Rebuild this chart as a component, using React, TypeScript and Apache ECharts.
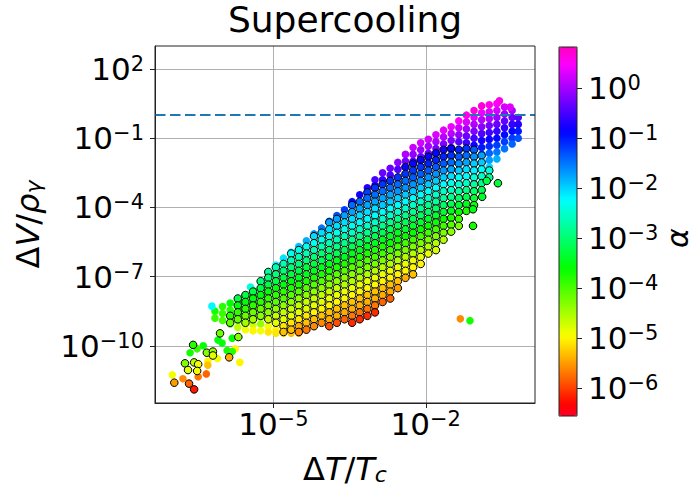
import React, { useEffect, useRef } from "react";
import * as echarts from "echarts";

// All values are log10 exponents: [log10(ΔT/Tc), log10(ΔV/ργ), log10(α)]
type P = [number, number, number];

// points drawn with a black edge (dense core)
const edgedCore: P[] = [
  [-5.85,-8.7,-3.85],[-5.85,-9.0,-4.15],
  [-5.7,-7.95,-3.25],[-5.7,-8.25,-3.55],[-5.7,-8.55,-3.85],[-5.7,-8.85,-4.15],
  [-5.55,-7.8,-3.25],[-5.55,-8.1,-3.55],[-5.55,-8.4,-3.85],[-5.55,-8.7,-4.15],[-5.55,-9.0,-4.45],
  [-5.4,-7.65,-3.25],[-5.4,-7.95,-3.55],[-5.4,-8.25,-3.85],[-5.4,-8.55,-4.15],[-5.4,-8.85,-4.45],
  [-5.25,-7.2,-2.95],[-5.25,-7.5,-3.25],[-5.25,-7.8,-3.55],[-5.25,-8.1,-3.85],[-5.25,-8.4,-4.15],[-5.25,-8.7,-4.35],
  [-5.1,-6.8,-2.75],[-5.1,-7.05,-2.95],[-5.1,-7.35,-3.25],[-5.1,-7.65,-3.55],[-5.1,-7.95,-3.85],[-5.1,-8.25,-4.15],[-5.1,-8.55,-4.35],[-5.1,-8.85,-4.65],
  [-4.95,-6.6,-2.65],[-4.95,-6.9,-2.95],[-4.95,-7.2,-3.25],[-4.95,-7.5,-3.55],[-4.95,-7.8,-3.85],[-4.95,-8.1,-4.05],[-4.95,-8.4,-4.35],[-4.95,-8.7,-4.65],[-4.95,-9.0,-4.8],
  [-4.8,-6.45,-2.65],[-4.8,-6.75,-2.95],[-4.8,-7.05,-3.25],[-4.8,-7.35,-3.55],[-4.8,-7.65,-3.85],[-4.8,-7.95,-4.05],[-4.8,-8.25,-4.35],[-4.8,-8.55,-4.65],[-4.8,-8.85,-4.8],[-4.8,-9.15,-5.1],[-4.8,-9.4,-5.3],
  [-4.65,-6.0,-2.35],[-4.65,-6.3,-2.65],[-4.65,-6.6,-2.95],[-4.65,-6.9,-3.25],[-4.65,-7.2,-3.55],[-4.65,-7.5,-3.75],[-4.65,-7.8,-4.05],[-4.65,-8.1,-4.35],[-4.65,-8.4,-4.65],[-4.65,-8.7,-4.8],[-4.65,-9.0,-5.1],[-4.65,-9.3,-5.3],
  [-4.5,-5.85,-2.35],[-4.5,-6.15,-2.65],[-4.5,-6.45,-2.95],[-4.5,-6.75,-3.25],[-4.5,-7.05,-3.45],[-4.5,-7.35,-3.75],[-4.5,-7.65,-4.05],[-4.5,-7.95,-4.35],[-4.5,-8.25,-4.65],[-4.5,-8.55,-4.8],[-4.5,-8.85,-5.1],[-4.5,-9.15,-5.4],[-4.5,-9.4,-5.6],
  [-4.35,-5.7,-2.35],[-4.35,-6.0,-2.65],[-4.35,-6.3,-2.95],[-4.35,-6.6,-3.25],[-4.35,-6.9,-3.45],[-4.35,-7.2,-3.75],[-4.35,-7.5,-4.05],[-4.35,-7.8,-4.35],[-4.35,-8.1,-4.65],[-4.35,-8.4,-4.8],[-4.35,-8.7,-5.1],[-4.35,-9.0,-5.3],[-4.35,-9.3,-5.7],
  [-4.2,-5.25,-2.05],[-4.2,-5.55,-2.35],[-4.2,-5.85,-2.65],[-4.2,-6.15,-2.95],[-4.2,-6.45,-3.25],[-4.2,-6.75,-3.45],[-4.2,-7.05,-3.75],[-4.2,-7.35,-4.05],[-4.2,-7.65,-4.35],[-4.2,-7.95,-4.65],[-4.2,-8.25,-4.8],[-4.2,-8.55,-5.0],[-4.2,-8.85,-5.3],[-4.2,-9.15,-5.6],
  [-4.05,-5.1,-2.05],[-4.05,-5.4,-2.35],[-4.05,-5.7,-2.65],[-4.05,-6.0,-2.95],[-4.05,-6.3,-3.15],[-4.05,-6.6,-3.45],[-4.05,-6.9,-3.75],[-4.05,-7.2,-4.05],[-4.05,-7.5,-4.35],[-4.05,-7.8,-4.65],[-4.05,-8.1,-4.8],[-4.05,-8.4,-5.0],[-4.05,-8.7,-5.3],[-4.05,-9.0,-5.6],
  [-3.9,-4.65,-1.75],[-3.9,-4.95,-2.05],[-3.9,-5.25,-2.35],[-3.9,-5.55,-2.65],[-3.9,-5.85,-2.95],[-3.9,-6.15,-3.15],[-3.9,-6.45,-3.45],[-3.9,-6.75,-3.75],[-3.9,-7.05,-4.05],[-3.9,-7.35,-4.35],[-3.9,-7.65,-4.65],[-3.9,-7.95,-4.85],[-3.9,-8.25,-5.0],[-3.9,-8.55,-5.3],[-3.9,-8.85,-5.4],[-3.9,-9.15,-5.9],
  [-3.75,-4.5,-1.75],[-3.75,-4.8,-2.05],[-3.75,-5.1,-2.35],[-3.75,-5.4,-2.65],[-3.75,-5.7,-2.85],[-3.75,-6.0,-3.15],[-3.75,-6.3,-3.45],[-3.75,-6.6,-3.75],[-3.75,-6.9,-4.05],[-3.75,-7.2,-4.35],[-3.75,-7.5,-4.65],[-3.75,-7.8,-4.85],[-3.75,-8.1,-5.0],[-3.75,-8.4,-5.3],[-3.75,-8.7,-5.4],[-3.75,-9.0,-5.9],
  [-3.6,-4.35,-1.75],[-3.6,-4.65,-2.05],[-3.6,-4.95,-2.35],[-3.6,-5.25,-2.65],[-3.6,-5.55,-2.85],[-3.6,-5.85,-3.15],[-3.6,-6.15,-3.45],[-3.6,-6.45,-3.75],[-3.6,-6.75,-4.05],[-3.6,-7.05,-4.35],[-3.6,-7.35,-4.55],[-3.6,-7.65,-4.85],[-3.6,-7.95,-5.0],[-3.6,-8.25,-5.3],[-3.6,-8.55,-5.4],[-3.6,-8.85,-5.8],
  [-3.45,-3.9,-1.45],[-3.45,-4.2,-1.75],[-3.45,-4.5,-2.05],[-3.45,-4.8,-2.35],[-3.45,-5.1,-2.55],[-3.45,-5.4,-2.85],[-3.45,-5.7,-3.15],[-3.45,-6.0,-3.45],[-3.45,-6.3,-3.75],[-3.45,-6.6,-4.05],[-3.45,-6.9,-4.35],[-3.45,-7.2,-4.55],[-3.45,-7.5,-4.85],[-3.45,-7.8,-5.0],[-3.45,-8.1,-5.3],[-3.45,-8.4,-5.4],[-3.45,-8.7,-5.7],[-3.45,-9.0,-6.1],
  [-3.3,-3.75,-1.45],[-3.3,-4.05,-1.75],[-3.3,-4.35,-2.05],[-3.3,-4.65,-2.25],[-3.3,-4.95,-2.55],[-3.3,-5.25,-2.85],[-3.3,-5.55,-3.15],[-3.3,-5.85,-3.45],[-3.3,-6.15,-3.75],[-3.3,-6.45,-4.05],[-3.3,-6.75,-4.25],[-3.3,-7.05,-4.55],[-3.3,-7.35,-4.85],[-3.3,-7.65,-5.0],[-3.3,-7.95,-5.3],[-3.3,-8.25,-5.4],[-3.3,-8.55,-5.7],[-3.3,-8.85,-6.1],
  [-3.15,-3.35,-1.2],[-3.15,-3.6,-1.45],[-3.15,-3.9,-1.75],[-3.15,-4.2,-2.05],[-3.15,-4.5,-2.25],[-3.15,-4.8,-2.55],[-3.15,-5.1,-2.85],[-3.15,-5.4,-3.15],[-3.15,-5.7,-3.45],[-3.15,-6.0,-3.75],[-3.15,-6.3,-4.05],[-3.15,-6.6,-4.25],[-3.15,-6.9,-4.55],[-3.15,-7.2,-4.85],[-3.15,-7.5,-5.0],[-3.15,-7.8,-5.3],[-3.15,-8.1,-5.4],[-3.15,-8.4,-5.7],[-3.15,-8.7,-6.1],
  [-3.0,-3.15,-1.15],[-3.0,-3.45,-1.45],[-3.0,-3.75,-1.75],[-3.0,-4.05,-2.05],[-3.0,-4.35,-2.25],[-3.0,-4.65,-2.55],[-3.0,-4.95,-2.85],[-3.0,-5.25,-3.15],[-3.0,-5.55,-3.45],[-3.0,-5.85,-3.75],[-3.0,-6.15,-3.95],[-3.0,-6.45,-4.25],[-3.0,-6.75,-4.55],[-3.0,-7.05,-4.85],[-3.0,-7.35,-5.0],[-3.0,-7.65,-5.3],[-3.0,-7.95,-5.4],[-3.0,-8.25,-5.7],[-3.0,-8.55,-6.1],
  [-2.85,-3.0,-1.15],[-2.85,-3.3,-1.45],[-2.85,-3.6,-1.75],[-2.85,-3.9,-1.95],[-2.85,-4.2,-2.25],[-2.85,-4.5,-2.55],[-2.85,-4.8,-2.85],[-2.85,-5.1,-3.15],[-2.85,-5.4,-3.45],[-2.85,-5.7,-3.75],[-2.85,-6.0,-3.95],[-2.85,-6.3,-4.25],[-2.85,-6.6,-4.55],[-2.85,-6.9,-4.85],[-2.85,-7.2,-5.0],[-2.85,-7.5,-5.3],[-2.85,-7.8,-5.4],[-2.85,-8.1,-5.8],
  [-2.7,-2.85,-1.15],[-2.7,-3.15,-1.45],[-2.7,-3.45,-1.75],[-2.7,-3.75,-1.95],[-2.7,-4.05,-2.25],[-2.7,-4.35,-2.55],[-2.7,-4.65,-2.85],[-2.7,-4.95,-3.15],[-2.7,-5.25,-3.45],[-2.7,-5.55,-3.65],[-2.7,-5.85,-3.95],[-2.7,-6.15,-4.25],[-2.7,-6.45,-4.55],[-2.7,-6.75,-4.85],[-2.7,-7.05,-5.0],[-2.7,-7.35,-5.3],[-2.7,-7.65,-5.4],[-2.7,-7.95,-5.8],
  [-2.55,-2.7,-1.15],[-2.55,-3.0,-1.45],[-2.55,-3.3,-1.65],[-2.55,-3.6,-1.95],[-2.55,-3.9,-2.25],[-2.55,-4.2,-2.55],[-2.55,-4.5,-2.85],[-2.55,-4.8,-3.15],[-2.55,-5.1,-3.45],[-2.55,-5.4,-3.65],[-2.55,-5.7,-3.95],[-2.55,-6.0,-4.25],[-2.55,-6.3,-4.55],[-2.55,-6.6,-4.85],[-2.55,-6.9,-5.0],[-2.55,-7.2,-5.3],[-2.55,-7.5,-5.5],
  [-2.4,-2.25,-0.85],[-2.4,-2.55,-1.15],[-2.4,-2.85,-1.45],[-2.4,-3.15,-1.65],[-2.4,-3.45,-1.95],[-2.4,-3.75,-2.25],[-2.4,-4.05,-2.55],[-2.4,-4.35,-2.85],[-2.4,-4.65,-3.15],[-2.4,-4.95,-3.35],[-2.4,-5.25,-3.65],[-2.4,-5.55,-3.95],[-2.4,-5.85,-4.25],[-2.4,-6.15,-4.55],[-2.4,-6.45,-4.85],[-2.4,-6.75,-5.0],[-2.4,-7.05,-5.4],
  [-2.25,-2.1,-0.85],[-2.25,-2.4,-1.15],[-2.25,-2.7,-1.35],[-2.25,-3.0,-1.65],[-2.25,-3.3,-1.95],[-2.25,-3.6,-2.25],[-2.25,-3.9,-2.55],[-2.25,-4.2,-2.85],[-2.25,-4.5,-3.15],[-2.25,-4.8,-3.35],[-2.25,-5.1,-3.65],[-2.25,-5.4,-3.95],[-2.25,-5.7,-4.25],[-2.25,-6.0,-4.55],[-2.25,-6.3,-4.85],[-2.25,-6.6,-5.0],[-2.25,-6.9,-5.3],
  [-2.1,-1.95,-0.85],[-2.1,-2.25,-1.15],[-2.1,-2.55,-1.35],[-2.1,-2.85,-1.65],[-2.1,-3.15,-1.95],[-2.1,-3.45,-2.25],[-2.1,-3.75,-2.55],[-2.1,-4.05,-2.85],[-2.1,-4.35,-3.05],[-2.1,-4.65,-3.35],[-2.1,-4.95,-3.65],[-2.1,-5.25,-3.95],[-2.1,-5.55,-4.25],[-2.1,-5.85,-4.55],[-2.1,-6.15,-4.85],[-2.1,-6.45,-5.0],
  [-1.95,-1.8,-0.85],[-1.95,-2.1,-1.05],[-1.95,-2.4,-1.35],[-1.95,-2.7,-1.65],[-1.95,-3.0,-1.95],[-1.95,-3.3,-2.25],[-1.95,-3.6,-2.55],[-1.95,-3.9,-2.85],[-1.95,-4.2,-3.05],[-1.95,-4.5,-3.35],[-1.95,-4.8,-3.65],[-1.95,-5.1,-3.95],[-1.95,-5.4,-4.25],[-1.95,-5.7,-4.55],[-1.95,-6.0,-4.85],
  [-1.8,-1.65,-0.85],[-1.8,-1.95,-1.05],[-1.8,-2.25,-1.35],[-1.8,-2.55,-1.65],[-1.8,-2.85,-1.95],[-1.8,-3.15,-2.25],[-1.8,-3.45,-2.55],[-1.8,-3.75,-2.75],[-1.8,-4.05,-3.05],[-1.8,-4.35,-3.35],[-1.8,-4.65,-3.65],[-1.8,-4.95,-3.95],[-1.8,-5.25,-4.25],[-1.8,-5.55,-4.55],[-1.8,-5.85,-4.75],
  [-1.65,-1.5,-0.75],[-1.65,-1.8,-1.05],[-1.65,-2.1,-1.35],[-1.65,-2.4,-1.65],[-1.65,-2.7,-1.95],[-1.65,-3.0,-2.25],[-1.65,-3.3,-2.55],[-1.65,-3.6,-2.75],[-1.65,-3.9,-3.05],[-1.65,-4.2,-3.35],[-1.65,-4.5,-3.65],[-1.65,-4.8,-3.95],[-1.65,-5.1,-4.25],[-1.65,-5.4,-4.55],
  [-1.5,-1.45,-0.85],[-1.5,-1.75,-1.15],[-1.5,-2.05,-1.45],[-1.5,-2.35,-1.75],[-1.5,-2.65,-2.05],[-1.5,-2.95,-2.35],[-1.5,-3.25,-2.55],[-1.5,-3.55,-2.85],[-1.5,-3.85,-3.15],[-1.5,-4.15,-3.45],[-1.5,-4.45,-3.75],[-1.5,-4.75,-4.05],[-1.5,-5.05,-4.35],
  [-1.35,-1.5,-1.05],[-1.35,-1.8,-1.35],[-1.35,-2.1,-1.65],[-1.35,-2.4,-1.95],[-1.35,-2.7,-2.25],[-1.35,-3.0,-2.45],[-1.35,-3.3,-2.75],[-1.35,-3.6,-3.05],[-1.35,-3.9,-3.35],[-1.35,-4.2,-3.65],[-1.35,-4.5,-3.95],[-1.35,-4.8,-4.25],
  [-1.2,-1.45,-1.15],[-1.2,-1.75,-1.45],[-1.2,-2.05,-1.75],[-1.2,-2.35,-2.05],[-1.2,-2.65,-2.25],[-1.2,-2.95,-2.55],[-1.2,-3.25,-2.85],[-1.2,-3.55,-3.15],[-1.2,-3.85,-3.45],[-1.2,-4.15,-3.75],
  [-1.05,-1.5,-1.35],[-1.05,-1.8,-1.65],[-1.05,-2.1,-1.95],[-1.05,-2.4,-2.15],[-1.05,-2.7,-2.45],[-1.05,-3.0,-2.75],[-1.05,-3.3,-3.05],[-1.05,-3.6,-3.35],[-1.05,-3.9,-3.65],
  [-0.9,-1.75,-1.75],[-0.9,-2.05,-1.95],[-0.9,-2.35,-2.25],[-0.9,-2.65,-2.55],[-0.9,-2.95,-2.85],[-0.9,-3.25,-3.15],
  [-0.75,-2.4,-2.45],[-0.75,-2.7,-2.75],
];

// black-edged points in the low-ΔT tail and stray points
const edgedTail: P[] = [
  [-6.05,-9.46,-4.2],[-5.69,-9.62,-4.3],[-6.58,-9.96,-3.8],[-6.31,-10.3,-4.3],[-6.19,-10.25,-4.4],
  [-6.19,-10.42,-4.8],[-5.87,-10.5,-5.4],[-6.74,-10.76,-4.3],[-6.56,-10.72,-4.6],[-6.48,-10.8,-4.9],
  [-6.68,-11.05,-4.8],[-6.5,-11.09,-4.9],[-6.95,-11.6,-5.5],[-6.66,-11.64,-5.8],[-6.56,-11.89,-6.2],
  [-1.07,-4.08,-3.5],[-1.07,-4.8,-3.7],[-0.58,-2.95,-3.3],[-0.89,-3.54,-3.4],[-0.8,-2.85,-3.2],
];

// points without edge: upper strip and high-α cluster
const plainUpper: P[] = [
  [-4.35,-5.45,-1.8],[-4.2,-5.15,-1.6],[-4.05,-4.9,-1.5],[-3.9,-4.6,-1.4],[-3.75,-4.35,-1.3],[-3.6,-4.1,-1.2],[-3.45,-3.8,-1.0],[-3.45,-3.75,-0.9],
  [-3.3,-3.45,-0.8],[-3.15,-3.15,-0.7],[-3.0,-2.8,-0.5],[-3.0,-3.05,-0.75],
  [-2.85,-2.5,-0.3],[-2.85,-2.8,-0.6],[-2.7,-2.3,-0.3],[-2.7,-2.6,-0.5],[-2.55,-2.05,-0.15],[-2.55,-2.35,-0.45],
  [-2.4,-1.7,0.05],[-2.4,-2.0,-0.25],[-2.25,-1.4,0.2],[-2.25,-1.7,-0.1],[-2.25,-2.0,-0.4],
  [-2.1,-1.2,0.25],[-2.1,-1.5,-0.05],[-2.1,-1.8,-0.3],[-1.95,-1.05,0.25],[-1.95,-1.35,0.0],[-1.95,-1.65,-0.3],
  [-1.8,-0.85,0.3],[-1.8,-1.15,0.05],[-1.8,-1.45,-0.25],[-1.65,-0.65,0.35],[-1.65,-0.95,0.1],[-1.65,-1.25,-0.2],
  [-1.5,-0.5,0.4],[-1.5,-0.8,0.1],[-1.5,-1.1,-0.2],[-1.5,-1.4,-0.5],
  [-1.35,-0.25,0.5],[-1.35,-0.55,0.2],[-1.35,-0.85,-0.1],[-1.35,-1.15,-0.4],
  [-1.2,0.0,0.6],[-1.2,-0.3,0.3],[-1.2,-0.6,0.0],[-1.2,-0.9,-0.3],[-1.2,-1.2,-0.55],
  [-1.05,0.2,0.65],[-1.05,-0.1,0.35],[-1.05,-0.4,0.05],[-1.05,-0.7,-0.2],[-1.05,-1.0,-0.5],[-1.05,-1.3,-0.8],
  [-0.9,0.4,0.7],[-0.9,0.1,0.4],[-0.9,-0.2,0.1],[-0.9,-0.5,-0.15],[-0.9,-0.8,-0.45],[-0.9,-1.1,-0.75],[-0.9,-1.4,-1.0],[-0.9,-1.7,-1.3],
  [-0.75,0.45,0.6],[-0.75,0.15,0.3],[-0.75,-0.15,0.05],[-0.75,-0.45,-0.25],[-0.75,-0.75,-0.55],[-0.75,-1.05,-0.8],[-0.75,-1.35,-1.1],[-0.75,-1.65,-1.4],[-0.75,-1.95,-1.7],[-0.75,-2.25,-2.0],
  [-0.6,0.5,0.5],[-0.6,0.2,0.25],[-0.6,-0.1,-0.05],[-0.6,-0.4,-0.35],[-0.6,-0.7,-0.6],[-0.6,-1.0,-0.9],[-0.6,-1.3,-1.2],[-0.6,-1.6,-1.5],[-0.6,-1.9,-1.8],
  [-0.45,0.35,0.25],[-0.45,0.05,-0.05],[-0.45,-0.25,-0.35],[-0.45,-0.55,-0.6],[-0.45,-0.85,-0.9],[-0.45,-1.15,-1.2],[-0.45,-1.45,-1.5],
  [-0.3,0.2,0.0],[-0.3,-0.1,-0.3],[-0.3,-0.4,-0.6],[-0.3,-0.7,-0.9],[-0.3,-1.0,-1.2],[-0.3,-1.25,-1.4],
  [-0.18,-0.1,-0.4],[-0.18,-0.4,-0.7],[-0.18,-0.7,-1.0],[-0.18,-1.0,-1.3],
  [-0.55,0.62,0.6],[-0.34,0.35,0.3],
];

// points without edge: low-ΔT blob, bottom strip, tail and strays
const plainLower: P[] = [
  [-6.15,-8.5,-3.7],[-6.15,-8.8,-3.9],
  [-6.0,-8.3,-3.8],[-6.0,-8.6,-3.9],[-6.0,-8.9,-4.0],
  [-5.85,-8.15,-3.6],[-5.85,-8.45,-3.8],[-5.85,-8.75,-3.9],[-5.85,-9.05,-4.1],
  [-5.7,-8.0,-3.5],[-5.7,-8.3,-3.7],[-5.7,-8.6,-3.9],[-5.7,-8.9,-4.2],[-5.7,-9.2,-4.6],
  [-5.55,-7.85,-3.3],[-5.55,-8.15,-3.6],[-5.55,-8.45,-3.8],[-5.55,-8.75,-4.1],[-5.55,-9.05,-4.5],[-5.55,-9.3,-4.9],
  [-5.4,-7.6,-3.1],[-5.4,-7.9,-3.4],[-5.4,-8.2,-3.7],[-5.4,-8.5,-4.0],[-5.4,-8.8,-4.3],[-5.4,-9.1,-4.7],[-5.4,-9.35,-5.0],
  [-5.45,-7.45,-2.4],
  [-5.25,-7.25,-2.7],[-5.25,-7.55,-3.0],[-5.25,-7.85,-3.2],[-5.25,-8.15,-3.5],[-5.25,-8.45,-3.8],[-5.25,-8.75,-4.1],[-5.25,-9.05,-4.4],[-5.25,-9.35,-4.9],
  [-5.1,-6.9,-2.5],[-5.1,-9.15,-4.9],[-5.1,-9.4,-5.1],
  [-4.95,-6.5,-2.2],[-4.95,-9.3,-5.0],[-4.95,-9.45,-5.1],
  [-4.8,-6.2,-2.1],[-4.8,-9.45,-5.2],
  [-4.65,-5.95,-2.0],[-4.65,-9.45,-5.3],
  [-4.5,-5.7,-1.9],[-4.5,-9.45,-5.4],
  [-6.21,-8.28,-2.2],[-6.64,-10.3,-3.7],[-6.38,-10.0,-3.6],[-6.5,-10.13,-3.9],[-6.01,-9.88,-3.6],
  [-5.91,-10.2,-3.7],[-5.75,-10.13,-5.0],[-5.66,-10.72,-5.0],[-6.1,-10.55,-4.9],[-6.29,-10.67,-5.0],
  [-6.29,-10.84,-5.3],[-6.99,-11.26,-4.9],[-6.78,-11.43,-5.6],[-6.48,-11.34,-5.7],[-6.32,-11.22,-5.8],
  [-5.81,-10.25,-3.8],[-6.09,-9.75,-3.5],[-5.81,-9.67,-3.6],
  [-1.32,-8.83,-5.6],[-1.13,-8.91,-3.7],
];

const xTicks = [-5, -2];
const yTicks = [2, -1, -4, -7, -10];
const cbarTicks = [0, -1, -2, -3, -4, -5, -6];
const xRange = [-7.33, 0.15];
const yRange = [-12.48, 3.0];
const alphaRange = [-6.55, 0.82];
const thresholdLog = 0; // dashed line at ΔV/ργ = 1

const FONT = '"DejaVu Sans", sans-serif';

// matplotlib gist_rainbow colormap
const GIST: [number, number[]][] = [
  [0, [255, 0, 41]], [0.03, [255, 0, 0]], [0.215, [255, 255, 0]], [0.4, [0, 255, 0]],
  [0.586, [0, 255, 255]], [0.77, [0, 0, 255]], [0.954, [255, 0, 255]], [1, [255, 0, 191]],
];
function cmap(n: number): string[] {
  const out: string[] = [];
  for (let k = 0; k < n; k++) {
    const t = k / (n - 1);
    let j = 0;
    while (j < GIST.length - 2 && t > GIST[j + 1][0]) j++;
    const [t0, c0] = GIST[j];
    const [t1, c1] = GIST[j + 1];
    const f = Math.min(1, Math.max(0, (t - t0) / (t1 - t0)));
    const c = c0.map((v, i) => Math.round(v + (c1[i] - v) * f));
    out.push(`rgb(${c[0]},${c[1]},${c[2]})`);
  }
  return out;
}

const pow10 = (v: number) => `{b|10}{s|${v < 0 ? "\u2212" : ""}${Math.abs(Math.round(v))}}`;
const richTick = {
  b: { fontSize: 31, lineHeight: 31, padding: [5, 0, 0, 0], verticalAlign: "bottom", fontFamily: FONT, color: "#000" },
  s: { fontSize: 21, lineHeight: 21, verticalAlign: "top", fontFamily: FONT, color: "#000" },
};
const richName = {
  d: { fontSize: 32, lineHeight: 32, padding: [0, 0, 5, 0], verticalAlign: "top", fontFamily: FONT, color: "#000" },
  i: { fontSize: 32, lineHeight: 32, padding: [0, 0, 5, 0], verticalAlign: "top", fontFamily: FONT, fontStyle: "italic", color: "#000" },
  sub: { fontSize: 22, lineHeight: 22, verticalAlign: "bottom", fontFamily: FONT, fontStyle: "italic", color: "#000" },
};

export default function App() {
  const ref = useRef<HTMLDivElement>(null);
  useEffect(() => {
    if (!ref.current) return;
    const chart = echarts.init(ref.current, undefined, { renderer: "svg" });
    const axisColor = "#222";
    chart.setOption({
      animation: false,
      backgroundColor: "#fff",
      textStyle: { fontFamily: FONT },
      grid: [
        { left: 155, top: 46, width: 380, height: 369, show: true, borderColor: axisColor, borderWidth: 1, backgroundColor: "transparent", z: 10 },
        { left: 559, top: 47, width: 18, height: 369, show: true, borderColor: axisColor, borderWidth: 1, backgroundColor: "transparent", z: 10 },
      ],
      xAxis: [
        {
          gridIndex: 0, type: "value", min: xRange[0], max: xRange[1],
          axisLine: { show: true, onZero: false, lineStyle: { color: axisColor, width: 1 } },
          axisTick: { show: true, length: 5, customValues: xTicks, lineStyle: { color: axisColor, width: 1 } },
          axisLabel: { customValues: xTicks, formatter: pow10, margin: 5, rich: richTick },
          splitLine: { show: true, lineStyle: { color: "#b0b0b0", width: 1 } },
          name: "{d|Δ}{i|T}{d|/}{i|T}{sub|c}", nameLocation: "middle", nameGap: 50,
          nameTextStyle: { rich: richName },
        },
        { gridIndex: 1, type: "value", min: 0, max: 1, show: false },
      ],
      yAxis: [
        {
          gridIndex: 0, type: "value", min: yRange[0], max: yRange[1],
          axisLine: { show: true, onZero: false, lineStyle: { color: axisColor, width: 1 } },
          axisTick: { show: true, length: 5, customValues: yTicks, lineStyle: { color: axisColor, width: 1 } },
          axisLabel: { customValues: yTicks, formatter: pow10, margin: 11, rich: richTick },
          splitLine: { show: true, lineStyle: { color: "#b0b0b0", width: 1 } },
          name: "{d|Δ}{i|V}{d|/}{i|ρ}{sub|γ}", nameLocation: "middle", nameGap: 106, nameRotate: 90,
          nameTextStyle: { rich: richName },
        },
        {
          gridIndex: 1, type: "value", min: alphaRange[0], max: alphaRange[1], position: "right",
          axisLine: { show: false, onZero: false },
          axisTick: { show: true, length: 5, customValues: cbarTicks, lineStyle: { color: axisColor, width: 1 } },
          axisLabel: { customValues: cbarTicks, formatter: pow10, margin: 11, rich: richTick },
          splitLine: { show: false },
        },
      ],
      visualMap: {
        type: "continuous", min: alphaRange[0], max: alphaRange[1], dimension: 2, seriesIndex: [0, 1],
        inRange: { color: cmap(64) }, orient: "vertical", left: 559, top: 47,
        itemWidth: 18, itemHeight: 369, calculable: false, padding: 0, show: true, hoverLink: false,
      },
      series: [
        {
          type: "scatter", xAxisIndex: 0, yAxisIndex: 0, silent: true,
          data: [...plainLower, ...plainUpper], symbolSize: 7.6,
          itemStyle: { opacity: 1, borderWidth: 0 },
        },
        {
          type: "scatter", xAxisIndex: 0, yAxisIndex: 0, silent: true,
          data: [...edgedCore, ...edgedTail], symbolSize: 7.6,
          itemStyle: { opacity: 1, borderColor: "#000", borderWidth: 1 },
          markLine: {
            silent: true, symbol: ["none", "none"], label: { show: false },
            lineStyle: { color: "#1f77b4", width: 2, type: [10.5, 4.5], opacity: 1 },
            emphasis: { disabled: true },
            data: [{ yAxis: thresholdLog }],
          },
        },
      ],
      graphic: [
        { type: "text", x: 345, y: 19, style: { text: "Supercooling", font: `36px ${FONT}`, fill: "#000", textAlign: "center", textVerticalAlign: "middle" } },
        { type: "text", x: 677, y: 238, rotation: Math.PI / 2, style: { text: "α", font: `italic 30px ${FONT}`, fill: "#000", textAlign: "center", textVerticalAlign: "middle" } },
      ],
    });
    return () => chart.dispose();
  }, []);
  return <div ref={ref} style={{ position: "fixed", left: 0, top: 0, width: 696, height: 495 }} />;
}
